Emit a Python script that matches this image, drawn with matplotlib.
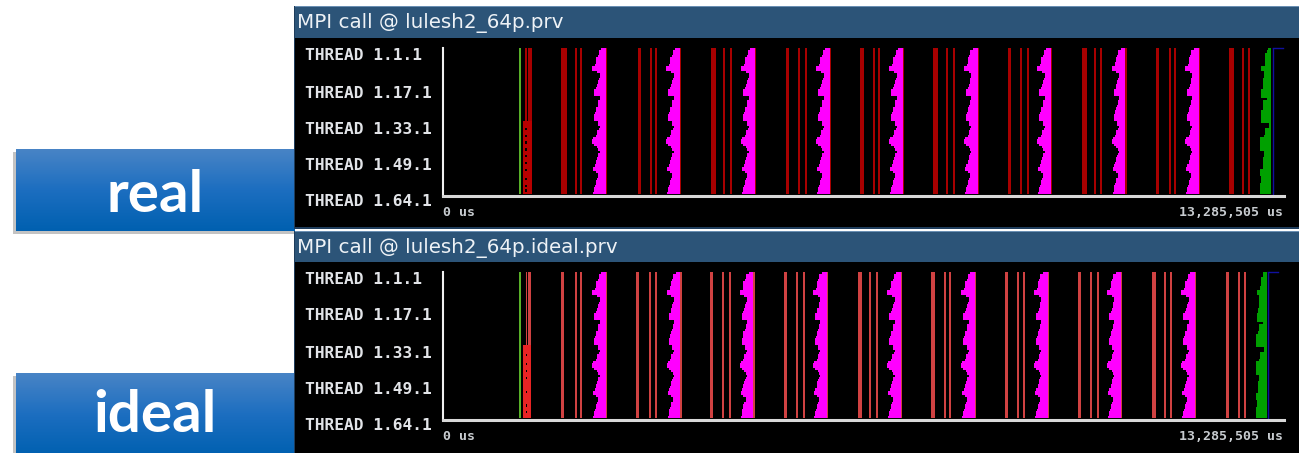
import numpy as np
import matplotlib.pyplot as plt
from matplotlib.colors import LinearSegmentedColormap

W, H = 1299, 453
T_END = 13.285505      # trace length in s (13,285,505 us)
N_THREADS = 64

thread_names = ["THREAD 1.1.1", "THREAD 1.17.1", "THREAD 1.33.1",
                "THREAD 1.49.1", "THREAD 1.64.1"]

# time each thread spends waiting in the exchange before it ends (ms), thread 1 first
wait_ms = [75, 115, 115, 130, 155, 155, 160, 170, 215, 215,
           140, 100, 100, 115, 125, 125, 145, 155, 185, 185,
           185, 100, 100, 120, 120, 130, 155, 160, 170, 185,
           185, 185, 130, 130, 100, 115, 140, 140, 160, 200,
           215, 215, 185, 140, 120, 100, 120, 130, 145, 155,
           160, 180, 200, 200, 155, 120, 120, 140, 155, 160,
           175, 185, 185, 200]

# time each thread spends in the final collective (ms)
final_ms = [60, 70, 100, 100, 100, 100, 105, 110, 160, 160,
            120, 120, 120, 130, 130, 130, 135, 135, 165, 165,
            165, 165, 70, 130, 130, 130, 135, 170, 170, 170,
            170, 170, 170, 40, 40, 110, 110, 110, 125, 180,
            180, 180, 180, 180, 180, 120, 120, 125, 135, 135,
            135, 140, 140, 180, 180, 180, 160, 160, 160, 175,
            175, 175, 175, 175]

# ---- real run (times in s) ----
real_first = 1.196
real_init_line = 1.300
real_init_bar = (1.348, 1.401)
real_busy = (1.259, 1.401)
real_busy_gaps = [35, 38, 41, 44, 47, 50, 53, 57, 60, 62]
real_bar_start = [1.869, 3.080, 4.234, 5.414, 6.592, 7.745, 8.925, 10.090, 11.263, 12.416]
real_bar_end = [1.954, 3.133, 4.308, 5.466, 6.646, 7.824, 8.978, 10.169, 11.316, 12.495]
real_line1 = [2.090, 3.270, 4.418, 5.603, 6.788, 7.941, 9.120, 10.279, 11.464, 12.622]
real_line2 = [2.164, 3.354, 4.534, 5.719, 6.872, 8.052, 9.221, 10.384, 11.543, 12.717]
real_wait_end = [2.575, 3.744, 4.929, 6.113, 7.267, 8.447, 9.605, 10.779, 11.938]
real_final_end = 13.088
real_trace_end = 13.112

# ---- ideal (simulated) run ----
ideal_first = 1.196
ideal_init_line = 1.306
ideal_init_bar = (1.348, 1.395)
ideal_busy = (1.268, 1.385)
ideal_busy_gaps = [36, 40, 43, 46, 52, 58, 61]
ideal_bar_start = [1.869, 3.054, 4.218, 5.392, 6.551, 7.709, 8.878, 10.036, 11.205, 12.369]
ideal_bar_end = [1.916, 3.101, 4.270, 5.439, 6.614, 7.767, 8.930, 10.078, 11.258, 12.416]
ideal_line1 = [2.085, 3.249, 4.412, 5.581, 6.734, 7.914, 9.072, 10.221, 11.385, 12.564]
ideal_line2 = [2.169, 3.354, 4.513, 5.687, 6.840, 7.993, 9.158, 10.331, 11.485, 12.649]
ideal_wait_end = [2.575, 3.749, 4.902, 6.061, 7.235, 8.404, 9.553, 10.706, 11.879]
ideal_final_end = 13.017
ideal_trace_end = 13.030

MAGENTA = "#ff00ff"
GREEN = "#00a000"
LINE_W = 0.033


def fx(x):
    return x / W


def fy(y):
    return 1 - y / H


def draw_trace(ax, first, init_line, init_bar, busy, gaps, bar_start, bar_end,
               line1, line2, wait_end, final_end, trace_end, red, busy_red):
    rows = np.arange(N_THREADS)
    wait = np.array(wait_ms) / 1000
    fin = np.array(final_ms) / 1000
    full = (0, N_THREADS)
    ax.broken_barh([(first, LINE_W)], full, facecolors="#58b028", linewidth=0)
    ax.broken_barh([(init_line, 0.025)], full, facecolors=red, linewidth=0)
    ax.broken_barh([(init_bar[0], init_bar[1] - init_bar[0])], full, facecolors=red, linewidth=0)
    ax.broken_barh([(busy[0], busy[1] - busy[0])], (32, 32), facecolors=busy_red, linewidth=0)
    for r in gaps:
        ax.broken_barh([(busy[0] + 0.04, 0.025)], (r, 1), facecolors="black", linewidth=0)
    ax.broken_barh(list(zip(bar_start, np.subtract(bar_end, bar_start))), full,
                   facecolors=red, linewidth=0)
    ax.broken_barh([(t, LINE_W) for t in line1 + line2], full, facecolors=red, linewidth=0)
    for t in wait_end:
        ax.barh(rows, wait, left=t - wait, height=1, align="edge", color=MAGENTA, linewidth=0)
        ax.broken_barh([(t, 0.022)], full, facecolors=red, linewidth=0)
    ax.barh(rows, fin, left=final_end - fin, height=1, align="edge", color=GREEN, linewidth=0)
    ax.plot([trace_end, trace_end], [0, N_THREADS], color="#1010a0", lw=1)
    ax.plot([trace_end, trace_end + 0.16], [0.2, 0.2], color="#1010a0", lw=1, clip_on=False)

    ax.set_xlim(0, T_END)
    ax.set_ylim(N_THREADS + 0.9, 0)
    ax.set_facecolor("black")
    ax.set_xticks([])
    ax.set_yticks([])
    for s in ("top", "right"):
        ax.spines[s].set_visible(False)
    ax.spines["left"].set_color("#f0f0f0")
    ax.spines["left"].set_linewidth(1.5)
    ax.spines["bottom"].set_color("#d8d8d8")
    ax.spines["bottom"].set_linewidth(2.2)


fig = plt.figure(figsize=(W / 100, H / 100), dpi=100)
fig.patch.set_facecolor("white")

bg = fig.add_axes([0, 0, 1, 1])
bg.set_xlim(0, W)
bg.set_ylim(H, 0)
bg.axis("off")

box_cmap = LinearSegmentedColormap.from_list("box", ["#4884c6", "#1c6ec0", "#0060b0"])
grad = np.linspace(0, 1, 100).reshape(-1, 1)

# blue caption boxes on the left
for top, bottom, word, base in [(149, 231, "real", 212), (373, 456, "ideal", 432)]:
    bg.add_patch(plt.Rectangle((13, top + 3), 282, bottom - top, color="#7a7a7a", alpha=0.45, lw=0))
    bg.imshow(grad, cmap=box_cmap, extent=[16, 295, bottom, top], aspect="auto", zorder=2)
    bg.text(155, base, word, color="white", fontsize=42, fontweight="bold",
            family=["Lato", "DejaVu Sans"], ha="center", va="baseline", zorder=3)

# window frames: title bar + black body
windows = [(6, 38, 229, "MPI call @ lulesh2_64p.prv"),
           (231, 262, 456, "MPI call @ lulesh2_64p.ideal.prv")]
for t_top, t_bot, w_bot, title in windows:
    bg.add_patch(plt.Rectangle((294, t_top), W - 294, w_bot - t_top, color="#1f3d5c", lw=0, zorder=4))
    bg.add_patch(plt.Rectangle((295, t_top + 1), W - 295, t_bot - t_top - 1, color="#2c5478", lw=0, zorder=4))
    bg.add_patch(plt.Rectangle((295, t_top), W - 295, 1.2, color="#6a8fb3", lw=0, zorder=4))
    bg.add_patch(plt.Rectangle((295, t_bot), W - 295, w_bot - t_bot - 2, color="black", lw=0, zorder=4))
    bg.text(297, (t_top + t_bot) / 2 + 1, title, color="#eef2f6", fontsize=14.3,
            family="DejaVu Sans", ha="left", va="center", zorder=5)

mono = dict(family="DejaVu Sans Mono", fontweight="bold", zorder=5)

panels = [
    (48, 196, [56, 93, 129, 166, 201], 212,
     (real_first, real_init_line, real_init_bar, real_busy, real_busy_gaps,
      real_bar_start, real_bar_end, real_line1, real_line2, real_wait_end,
      real_final_end, real_trace_end, "#a80000", "#b80000")),
    (272, 420, [280, 316, 353, 389, 425], 436,
     (ideal_first, ideal_init_line, ideal_init_bar, ideal_busy, ideal_busy_gaps,
      ideal_bar_start, ideal_bar_end, ideal_line1, ideal_line2, ideal_wait_end,
      ideal_final_end, ideal_trace_end, "#d04242", "#e82424")),
]

for top, bottom, label_y, axis_y, trace in panels:
    ax = fig.add_axes([fx(443), fy(bottom), fx(1284) - fx(443), fy(top) - fy(bottom)])
    ax.set_zorder(6)
    draw_trace(ax, *trace)
    for name, y in zip(thread_names, label_y):
        bg.text(305, y, name, color="#e2e4e8", fontsize=11.7, ha="left", va="center", **mono)
    bg.text(443, axis_y, "0 us", color="#c8ccd0", fontsize=9.5, ha="left", va="center", **mono)
    bg.text(1283, axis_y, "13,285,505 us", color="#c8ccd0", fontsize=9.5, ha="right", va="center", **mono)

fig.savefig("out.png", dpi=100, facecolor="white")
